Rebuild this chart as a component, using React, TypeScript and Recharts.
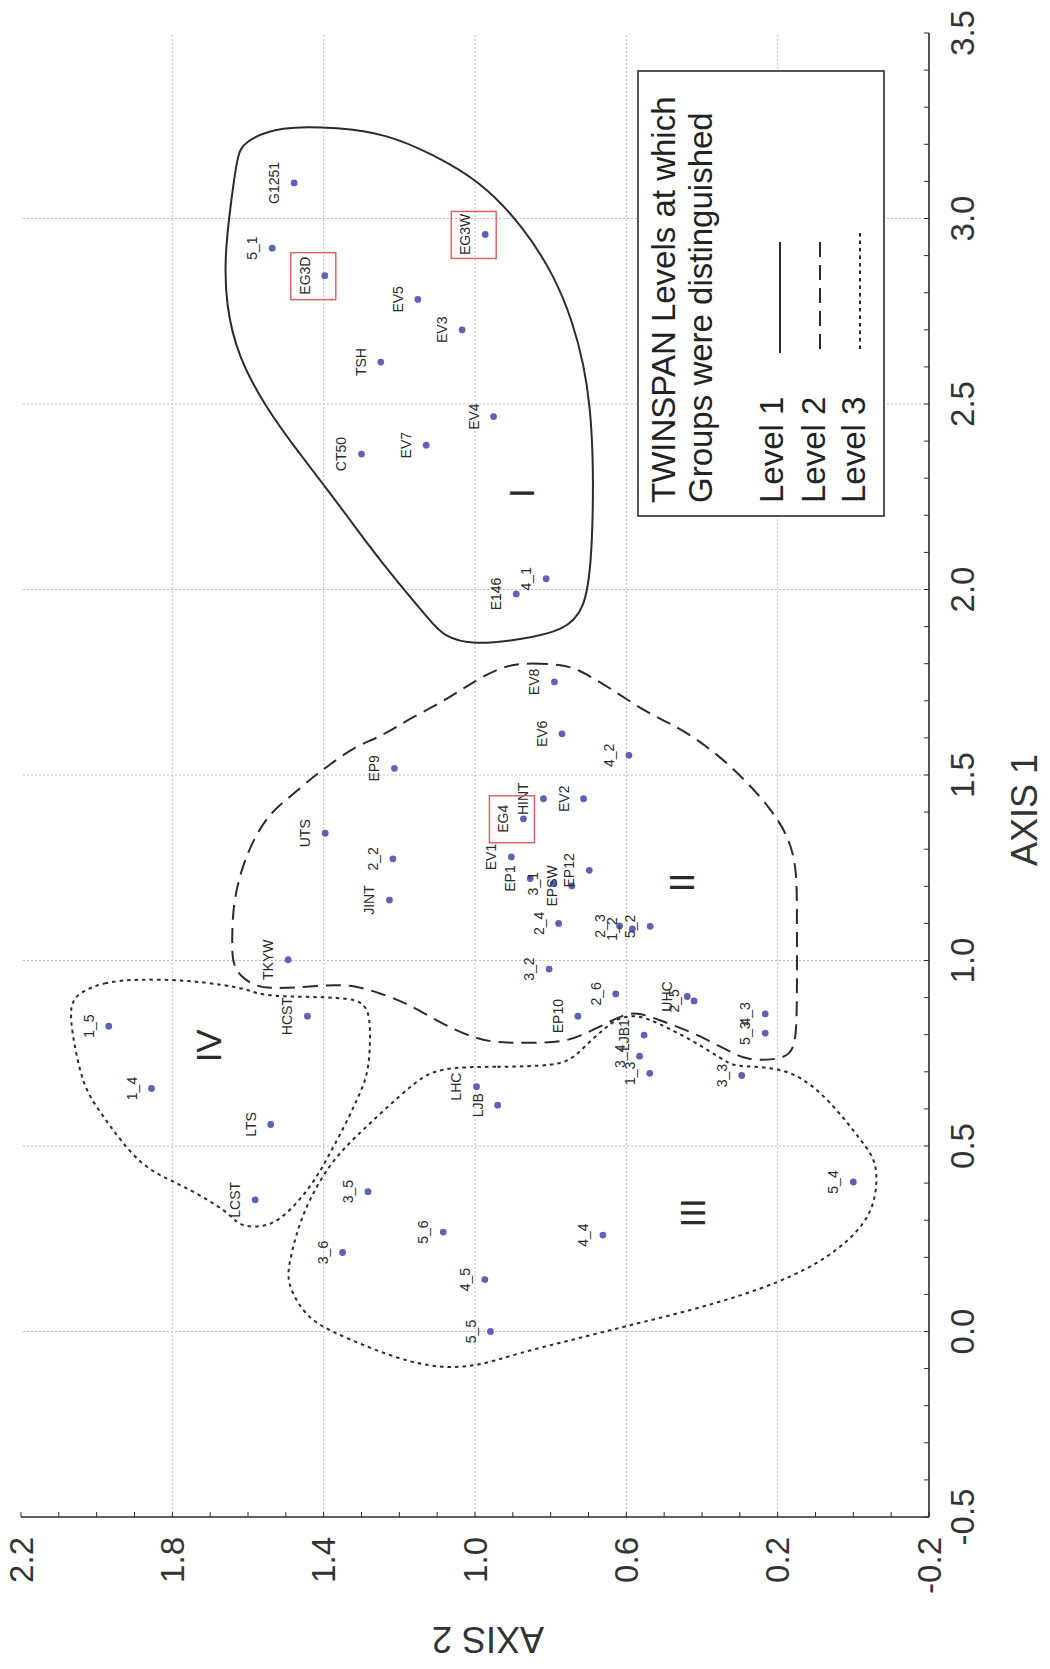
import React from 'react';
import { ScatterChart, Scatter, XAxis, YAxis, ReferenceLine, Legend } from 'recharts';

const FONT = '"Liberation Sans", Arial, Helvetica, sans-serif';
const INK = '#2b2b2b';

// ---- site scores (AXIS 2 horizontal, AXIS 1 vertical) ----
const siteNames = [
  'G1251', '5_1', 'EG3D', 'EG3W', 'EV5', 'EV3', 'TSH', 'EV4', 'EV7', 'CT50', 'E146', '4_1',
  'EV8', 'EV6', '4_2', 'EP9', 'HINT', 'EV2', 'EG4', 'UTS', '2_2', 'EV1', 'EP1', '3_1', 'EPSW', 'EP12',
  'JINT', '2_4', '2_3', '1_2', '5_2', 'TKYW', '3_2', '2_6', 'EP10', 'UHC', '2_5', '4_3', '5_3', 'LJB1',
  '3_4', '1_3', '3_3',
  'HCST', '1_5', '1_4', 'LTS', 'LCST', '3_5', '3_6', '5_6', 'LHC', 'LJB', '4_5', '5_5', '4_4', '5_4',
];
const siteAxis2 = [
  1.478, 1.536, 1.397, 0.973, 1.151, 1.034, 1.249, 0.951, 1.129, 1.300, 0.891, 0.812,
  0.790, 0.770, 0.593, 1.213, 0.819, 0.713, 0.872, 1.396, 1.217, 0.904, 0.854, 0.793, 0.744, 0.698,
  1.226, 0.779, 0.618, 0.584, 0.537, 1.494, 0.804, 0.628, 0.728, 0.439, 0.421, 0.233, 0.233, 0.553,
  0.565, 0.538, 0.295,
  1.443, 1.968, 1.855, 1.540, 1.581, 1.283, 1.350, 1.084, 0.996, 0.940, 0.974, 0.959, 0.662, 0.000,
];
const siteAxis1 = [
  3.096, 2.920, 2.846, 2.957, 2.782, 2.700, 2.613, 2.466, 2.389, 2.365, 1.988, 2.029,
  1.751, 1.611, 1.553, 1.518, 1.436, 1.436, 1.382, 1.343, 1.274, 1.279, 1.221, 1.207, 1.201, 1.243,
  1.163, 1.100, 1.093, 1.085, 1.092, 1.002, 0.977, 0.910, 0.850, 0.903, 0.891, 0.856, 0.804, 0.799,
  0.742, 0.696, 0.690,
  0.850, 0.823, 0.655, 0.558, 0.355, 0.377, 0.213, 0.268, 0.660, 0.610, 0.140, 0.000, 0.260, 0.403,
];
const boxedSites = ['EG3D', 'EG3W', 'EG4'];

// ---- TWINSPAN group labels ----
const groupNames = ['I', 'II', 'III', 'IV'];
const groupAxis2 = [0.876, 0.455, 0.424, 1.705];
const groupAxis1 = [2.26, 1.21, 0.32, 0.77];

// ---- group outlines ----
const groupIAxis2 = [1.613, 1.516, 1.360, 1.236, 1.115, 0.985, 0.872, 0.790, 0.742, 0.712, 0.696, 0.688, 0.688, 0.693, 0.709, 0.764, 0.880, 1.004, 1.084, 1.120, 1.200, 1.289, 1.378, 1.467, 1.556, 1.627, 1.658, 1.662, 1.644, 1.628];
const groupIAxis1 = [3.207, 3.250, 3.245, 3.228, 3.175, 3.100, 2.978, 2.845, 2.722, 2.605, 2.495, 2.360, 2.216, 2.072, 1.947, 1.889, 1.865, 1.850, 1.874, 1.918, 2.014, 2.129, 2.254, 2.370, 2.495, 2.630, 2.764, 2.899, 3.053, 3.168];

const groupIIAxis2 = [0.921, 0.847, 0.775, 0.730, 0.635, 0.545, 0.458, 0.366, 0.286, 0.220, 0.173, 0.151, 0.149, 0.149, 0.149, 0.151, 0.167, 0.207, 0.281, 0.318, 0.371, 0.424, 0.477, 0.519, 0.564, 0.595, 0.635, 0.677, 0.722, 0.767, 0.855, 0.942, 1.005, 1.092, 1.180, 1.251, 1.322, 1.391, 1.481, 1.542, 1.576, 1.621, 1.642, 1.642, 1.640, 1.621, 1.587, 1.542, 1.489, 1.428, 1.391, 1.322, 1.251, 1.180, 1.085, 1.005];
const groupIIAxis1 = [1.797, 1.802, 1.797, 1.788, 1.729, 1.667, 1.627, 1.562, 1.487, 1.411, 1.338, 1.257, 1.163, 1.028, 0.894, 0.786, 0.745, 0.732, 0.732, 0.751, 0.778, 0.805, 0.826, 0.842, 0.858, 0.858, 0.840, 0.818, 0.797, 0.780, 0.778, 0.778, 0.791, 0.832, 0.885, 0.912, 0.934, 0.934, 0.926, 0.926, 0.929, 0.956, 0.996, 1.055, 1.144, 1.236, 1.325, 1.398, 1.441, 1.495, 1.522, 1.575, 1.602, 1.648, 1.697, 1.751];

const groupIIIAxis2 = [1.098, 0.942, 0.781, 0.736, 0.701, 0.656, 0.622, 0.577, 0.535, 0.490, 0.429, 0.376, 0.331, 0.305, 0.167, 0.062, -0.026, -0.065, -0.060, -0.026, 0.062, 0.194, 0.392, 0.611, 0.744, 0.886, 0.997, 1.108, 1.217, 1.328, 1.428, 1.470, 1.494, 1.494, 1.470, 1.439, 1.383, 1.317, 1.240, 1.161];
const groupIIIAxis1 = [0.713, 0.713, 0.716, 0.740, 0.778, 0.818, 0.845, 0.853, 0.840, 0.818, 0.786, 0.753, 0.724, 0.713, 0.713, 0.624, 0.508, 0.454, 0.354, 0.282, 0.201, 0.131, 0.066, 0.012, -0.023, -0.058, -0.096, -0.098, -0.069, -0.023, 0.023, 0.077, 0.131, 0.174, 0.274, 0.354, 0.454, 0.524, 0.597, 0.670];

const groupIVAxis2 = [2.052, 1.981, 1.893, 1.761, 1.663, 1.595, 1.558, 1.338, 1.293, 1.277, 1.277, 1.285, 1.312, 1.346, 1.383, 1.418, 1.463, 1.515, 1.558, 1.611, 1.637, 1.655, 1.735, 1.806, 1.875, 1.938, 1.981, 2.026, 2.047, 2.065, 2.071];
const groupIVAxis1 = [0.912, 0.942, 0.950, 0.947, 0.934, 0.921, 0.902, 0.902, 0.885, 0.848, 0.759, 0.686, 0.624, 0.551, 0.481, 0.416, 0.354, 0.301, 0.282, 0.282, 0.301, 0.322, 0.373, 0.408, 0.443, 0.516, 0.578, 0.643, 0.713, 0.805, 0.875];

// ---- axes ----
const axis2Ticks = [2.2, 2.1, 2.0, 1.9, 1.8, 1.7, 1.6, 1.5, 1.4, 1.3, 1.2, 1.1, 1.0, 0.9, 0.8, 0.7, 0.6, 0.5, 0.4, 0.3, 0.2, 0.1, 0.0, -0.1, -0.2];
const axis2Labels = [2.2, 1.8, 1.4, 1.0, 0.6, 0.2, -0.2];
const axis2Grid = [1.8, 1.4, 1.0, 0.6, 0.2];
const axis1Ticks = [-0.5, -0.4, -0.3, -0.2, -0.1, 0.0, 0.1, 0.2, 0.3, 0.4, 0.5, 0.6, 0.7, 0.8, 0.9, 1.0, 1.1, 1.2, 1.3, 1.4, 1.5, 1.6, 1.7, 1.8, 1.9, 2.0, 2.1, 2.2, 2.3, 2.4, 2.5, 2.6, 2.7, 2.8, 2.9, 3.0, 3.1, 3.2, 3.3, 3.4, 3.5];
const axis1Labels = [-0.5, 0.0, 0.5, 1.0, 1.5, 2.0, 2.5, 3.0, 3.5];
const axis1Grid = [0.0, 0.5, 1.0, 1.5, 2.0, 2.5, 3.0];
const axisTitles = ['AXIS 1', 'AXIS 2'];

// ---- legend ----
const legendTitle = ['TWINSPAN Levels at which', 'Groups were distinguished'];
const levelNames = ['Level 1', 'Level 2', 'Level 3'];

const levelDash: Record<string, string | undefined> = {
  'Level 1': undefined,
  'Level 2': '15 8',
  'Level 3': '3.5 4',
};

const sites = siteNames.map((name, i) => ({ name, a2: siteAxis2[i], a1: siteAxis1[i] }));
const groups = groupNames.map((name, i) => ({ name, a2: groupAxis2[i], a1: groupAxis1[i] }));
const toPts = (xs: number[], ys: number[]) => xs.map((a2, i) => ({ a2, a1: ys[i] }));
const outlines = [
  { key: 'I', level: 'Level 1', points: toPts(groupIAxis2, groupIAxis1) },
  { key: 'II', level: 'Level 2', points: toPts(groupIIAxis2, groupIIAxis1) },
  { key: 'III', level: 'Level 3', points: toPts(groupIIIAxis2, groupIIIAxis1) },
  { key: 'IV', level: 'Level 3', points: toPts(groupIVAxis2, groupIVAxis1) },
];

const renderNothing = () => <g />;

const renderSite = (props: any) => {
  const { cx, cy, payload } = props;
  if (cx == null || cy == null) return <g />;
  const lx = cx - 15;
  const boxed = boxedSites.includes(payload.name);
  return (
    <g>
      {boxed && (
        <rect x={cx - 34} y={cy - 23} width={45} height={47} fill="none" stroke="#e15a5a" strokeWidth={1.4} />
      )}
      <circle cx={cx} cy={cy} r={3.4} fill="#5f61b6" />
      <text
        x={lx}
        y={cy}
        transform={`rotate(-90 ${lx} ${cy})`}
        textAnchor="middle"
        fontSize={14}
        fontFamily={FONT}
        fill="#2a2a2a"
      >
        {payload.name}
      </text>
    </g>
  );
};

const renderGroup = (props: any) => {
  const { cx, cy, payload } = props;
  if (cx == null || cy == null) return <g />;
  return (
    <text
      x={cx}
      y={cy}
      transform={`rotate(-90 ${cx} ${cy})`}
      textAnchor="middle"
      dominantBaseline="central"
      fontSize={35}
      fontFamily={FONT}
      fill="#2a2a2a"
    >
      {payload.name}
    </text>
  );
};

const renderBottomTick = (props: any) => {
  const { x, y, payload } = props;
  if (!axis2Labels.includes(payload.value)) return <g />;
  return (
    <text
      x={x}
      y={y}
      transform={`rotate(-90 ${x} ${y})`}
      textAnchor="end"
      dominantBaseline="central"
      fontSize={33}
      fontFamily={FONT}
      fill="#333"
    >
      {Number(payload.value).toFixed(1)}
    </text>
  );
};

const renderRightTick = (props: any) => {
  const { x, y, payload } = props;
  if (!axis1Labels.includes(payload.value)) return <g />;
  return (
    <text
      x={x}
      y={y}
      transform={`rotate(-90 ${x} ${y})`}
      textAnchor="middle"
      dominantBaseline="central"
      fontSize={33}
      fontFamily={FONT}
      fill="#333"
    >
      {Number(payload.value).toFixed(1)}
    </text>
  );
};

const renderAxis2Title = (p: any) => {
  const vb = p && p.viewBox ? p.viewBox : { x: 21, y: 1517, width: 908, height: 60 };
  const x = vb.x + vb.width / 2 + 13;
  const y = vb.y + 122;
  return (
    <text
      x={x}
      y={y}
      transform={`rotate(180 ${x} ${y})`}
      textAnchor="middle"
      dominantBaseline="central"
      fontSize={36}
      fontFamily={FONT}
      fill="#333"
    >
      {axisTitles[1]}
    </text>
  );
};

const renderAxis1Title = (p: any) => {
  const vb = p && p.viewBox ? p.viewBox : { x: 929, y: 33, width: 60, height: 1484 };
  const x = vb.x + 95;
  const y = vb.y + vb.height / 2 + 35;
  return (
    <text
      x={x}
      y={y}
      transform={`rotate(-90 ${x} ${y})`}
      textAnchor="middle"
      dominantBaseline="central"
      fontSize={36}
      fontFamily={FONT}
      fill="#333"
    >
      {axisTitles[0]}
    </text>
  );
};

const LegendBox = () => {
  const textX = [38, 75];
  const levelX = [146, 188, 228];
  const lineX = [143, 183, 223];
  const startY = 433;
  return (
    <svg width={248} height={447} style={{ display: 'block' }}>
      <rect x={1} y={1} width={246} height={445} fill="#fff" stroke={INK} strokeWidth={1.6} />
      {legendTitle.map((t, i) => (
        <text
          key={t}
          x={textX[i]}
          y={startY}
          transform={`rotate(-90 ${textX[i]} ${startY})`}
          textAnchor="start"
          fontSize={33}
          fontFamily={FONT}
          fill="#222"
        >
          {t}
        </text>
      ))}
      {levelNames.map((t, i) => (
        <g key={t}>
          <text
            x={levelX[i]}
            y={startY}
            transform={`rotate(-90 ${levelX[i]} ${startY})`}
            textAnchor="start"
            fontSize={33}
            fontFamily={FONT}
            fill="#222"
          >
            {t}
          </text>
          <line
            x1={lineX[i]}
            x2={lineX[i]}
            y1={i === 2 ? 163 : 172}
            y2={i === 2 ? 280 : 283}
            stroke={INK}
            strokeWidth={2}
            strokeDasharray={levelDash[t]}
          />
        </g>
      ))}
    </svg>
  );
};

export default function App() {
  return (
    <div style={{ margin: '-8px' }}>
      <ScatterChart width={1050} height={1664} margin={{ top: 33, right: 61, bottom: 87, left: 21 }}>
        <XAxis
          xAxisId={0}
          type="number"
          dataKey="a2"
          domain={[-0.2, 2.2]}
          reversed
          allowDataOverflow
          ticks={axis2Ticks}
          interval={0}
          tickSize={-5}
          tickMargin={25}
          tick={renderBottomTick}
          height={60}
          axisLine={{ stroke: INK, strokeWidth: 1.6 }}
          tickLine={{ stroke: INK }}
          label={{ value: axisTitles[1], content: renderAxis2Title }}
        />
        <XAxis
          xAxisId="top"
          orientation="top"
          type="number"
          dataKey="a2"
          domain={[-0.2, 2.2]}
          reversed
          allowDataOverflow
          ticks={axis2Ticks}
          interval={0}
          tickSize={-5}
          tick={false}
          height={0}
          axisLine={{ stroke: INK, strokeWidth: 1.6 }}
          tickLine={{ stroke: INK }}
        />
        <YAxis
          yAxisId={0}
          orientation="right"
          type="number"
          dataKey="a1"
          domain={[-0.5, 3.5]}
          allowDataOverflow
          ticks={axis1Ticks}
          interval={0}
          tickSize={-5}
          tickMargin={38}
          tick={renderRightTick}
          width={60}
          axisLine={{ stroke: INK, strokeWidth: 1.6 }}
          tickLine={{ stroke: INK }}
          label={{ value: axisTitles[0], content: renderAxis1Title }}
        />
        <YAxis
          yAxisId="left"
          orientation="left"
          type="number"
          dataKey="a1"
          domain={[-0.5, 3.5]}
          allowDataOverflow
          ticks={axis1Ticks}
          interval={0}
          tickSize={-5}
          tick={false}
          width={0}
          axisLine={{ stroke: INK, strokeWidth: 1.6 }}
          tickLine={{ stroke: INK }}
        />
        {axis2Grid.map((v) => (
          <ReferenceLine key={`gx${v}`} x={v} stroke="#bdbdbd" strokeDasharray="2 2" strokeWidth={1} />
        ))}
        {axis1Grid.map((v) => (
          <ReferenceLine key={`gy${v}`} y={v} stroke="#bdbdbd" strokeDasharray="2 2" strokeWidth={1} />
        ))}
        {outlines.map((o) => (
          <Scatter
            key={o.key}
            name={o.level}
            data={o.points}
            fill="none"
            line={{ stroke: INK, strokeWidth: 2, strokeDasharray: levelDash[o.level], fill: 'none' }}
            lineType="joint"
            lineJointType="basisClosed"
            shape={renderNothing}
            legendType="none"
            isAnimationActive={false}
          />
        ))}
        <Scatter name="sites" data={sites} fill="#5f61b6" shape={renderSite} legendType="none" isAnimationActive={false} />
        <Scatter name="groups" data={groups} fill="#222" shape={renderGroup} legendType="none" isAnimationActive={false} />
        <Legend
          layout="horizontal"
          verticalAlign="middle"
          align="center"
          wrapperStyle={{ left: 637, top: 70, width: 248, height: 447 }}
          content={() => <LegendBox />}
        />
      </ScatterChart>
    </div>
  );
}
